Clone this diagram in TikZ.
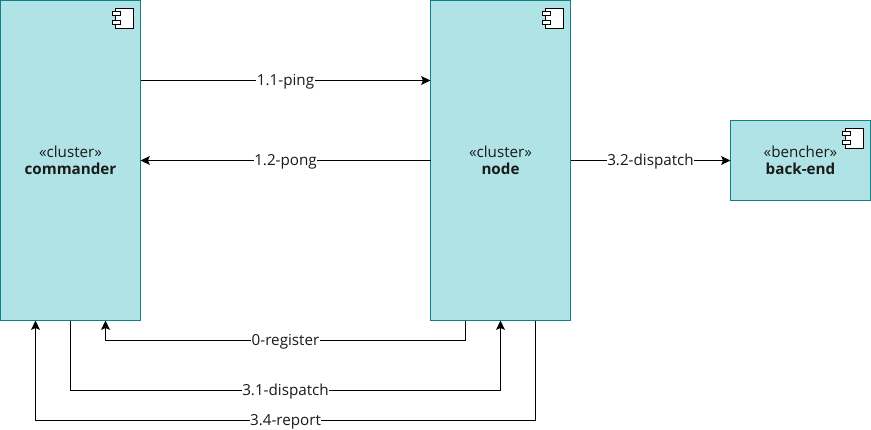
\documentclass[tikz,border=0pt]{standalone}
\usepackage{fontspec}
\setmainfont{Open Sans}
\usetikzlibrary{calc,arrows.meta}
\definecolor{boxfill}{HTML}{B0E3E6}
\definecolor{boxline}{HTML}{0E8088}
\definecolor{txt}{HTML}{1A1A1A}
\tikzset{
  comp/.style={draw=boxline,fill=boxfill,line width=0.75pt,outer sep=0pt,minimum width=105pt,inner sep=0pt,anchor=north west,align=center,text=txt,font=\fontsize{11.4pt}{12.5pt}\selectfont},
  link/.style={draw=black,line width=0.75pt,-{Stealth[length=7pt,width=6.6pt,inset=1.4pt]}},
  lab/.style={fill=white,inner sep=0.4pt,text=txt,yshift=-0.9pt,font=\fontsize{11.4pt}{12pt}\selectfont},
  ico/.style={draw=black,fill=white,line width=0.75pt}
}
\newcommand{\compicon}[1]{%
  \draw[ico] ($(#1.north east)+(-25,7.5)$) rectangle ($(#1.north east)+(-7,27.5)$);
  \draw[ico] ($(#1.north east)+(-28,11)$) rectangle ($(#1.north east)+(-20,15)$);
  \draw[ico] ($(#1.north east)+(-28,20)$) rectangle ($(#1.north east)+(-20,24)$);
}
\begin{document}
\begin{tikzpicture}[x=0.75pt,y=-0.75pt]
\useasboundingbox (0,0) rectangle (871,429);
\node[comp,minimum height=240pt] (cmd) at (0.5,0.5) {«cluster»\\\textbf{commander}};
\node[comp,minimum height=240pt] (nod) at (430.5,0.5) {«cluster»\\\textbf{node}};
\node[comp,minimum height=60pt] (bak) at (730.5,120.5) {«bencher»\\\textbf{back-end}};
\compicon{cmd}\compicon{nod}\compicon{bak}
\coordinate (a1) at ($(cmd.north east)+(0,80)$);
\coordinate (a2) at ($(nod.north west)+(0,80)$);
\draw[link] (a1) -- node[lab]{1.1-ping} (a2);
\draw[link] (nod.west) -- node[lab]{1.2-pong} (cmd.east);
\draw[link] (nod.east) -- node[lab]{3.2-dispatch} (bak.west);
\coordinate (r0) at ($(nod.south west)+(35,0)$);
\coordinate (r1) at ($(cmd.south west)+(105,0)$);
\draw[link] (r0) -- ++(0,20) -| node[lab,pos=0.25]{0-register} (r1);
\coordinate (d0) at ($(cmd.south west)+(70,0)$);
\draw[link] (d0) -- ++(0,70) -| node[lab,pos=0.25]{3.1-dispatch} (nod.south);
\coordinate (p0) at ($(nod.south west)+(105,0)$);
\coordinate (p1) at ($(cmd.south west)+(35,0)$);
\draw[link] (p0) -- ++(0,100) -| node[lab,pos=0.25]{3.4-report} (p1);
\end{tikzpicture}
\end{document}
